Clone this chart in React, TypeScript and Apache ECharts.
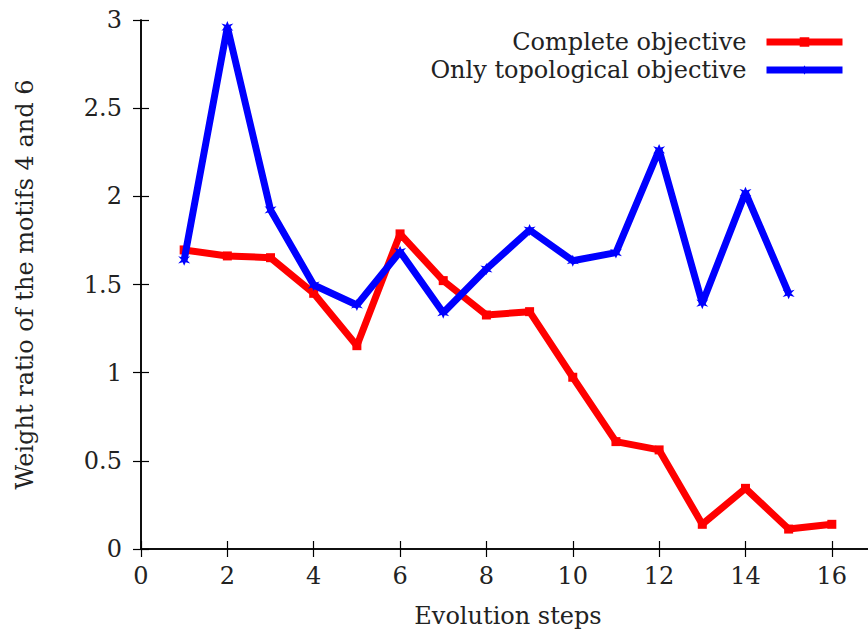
import React, { useEffect, useRef } from "react";
import * as echarts from "echarts";

const steps = [1, 2, 3, 4, 5, 6, 7, 8, 9, 10, 11, 12, 13, 14, 15, 16];
const completeObjective = [1.696, 1.662, 1.652, 1.45, 1.153, 1.787, 1.522, 1.327, 1.346, 0.974, 0.609, 0.562, 0.14, 0.344, 0.113, 0.14];
const topologicalSteps = [1, 2, 3, 4, 5, 6, 7, 8, 9, 10, 11, 12, 13, 14, 15];
const topologicalObjective = [1.64, 2.96, 1.923, 1.497, 1.384, 1.686, 1.34, 1.588, 1.809, 1.635, 1.681, 2.263, 1.394, 2.021, 1.45];
const seriesNames = ["Complete objective", "Only topological objective"];
const xTitle = "Evolution steps";
const yTitle = "Weight ratio of the motifs 4 and 6";

const FONT = "'DejaVu Serif', serif";
const FS = 24;
const TXT = "#222";

export default function App() {
  const ref = useRef<HTMLDivElement>(null);
  useEffect(() => {
    if (!ref.current) return;
    const chart = echarts.init(ref.current, undefined, { renderer: "svg" });
    const axisLineStyle = { color: "#000", width: 1.5 };
    const xBase = {
      type: "value" as const,
      min: 0,
      max: 17,
      interval: 2,
      splitLine: { show: false },
      axisLine: { show: true, lineStyle: axisLineStyle },
      axisTick: { show: true, inside: true, length: 8, lineStyle: { color: "#000", width: 1.2 } },
    };
    const yBase = {
      type: "value" as const,
      min: 0,
      max: 3,
      interval: 0.5,
      splitLine: { show: false },
      axisLine: { show: true, lineStyle: axisLineStyle },
      axisTick: { show: true, inside: true, length: 8, lineStyle: { color: "#000", width: 1.2 } },
    };
    const legendBase = {
      right: 39 + 22,
      align: "right",
      itemWidth: 76,
      itemHeight: 12,
      lineStyle: { width: 7 },
      textStyle: { fontFamily: FONT, fontSize: FS, color: TXT, padding: [0, 15, 0, 0] },
    };
    legendBase.right = 39 + 22 - 22 - 0;
    chart.setOption({
      animation: false,
      backgroundColor: "#fff",
      textStyle: { fontFamily: FONT },
      grid: { left: 141, top: 20, right: 15, bottom: 86, containLabel: false },
      xAxis: [
        {
          ...xBase,
          position: "bottom",
          name: xTitle,
          nameLocation: "middle",
          nameGap: 55,
          nameTextStyle: { fontFamily: FONT, fontSize: FS, color: TXT },
          axisLabel: {
            margin: 15,
            fontFamily: FONT,
            fontSize: FS,
            color: TXT,
            formatter: (v: number) => (v % 2 === 0 ? String(v) : ""),
          },
        },
        { ...xBase, position: "top", axisLabel: { show: false } },
      ],
      yAxis: [
        {
          ...yBase,
          position: "left",
          name: yTitle,
          nameLocation: "middle",
          nameGap: 104,
          nameTextStyle: { fontFamily: FONT, fontSize: FS, color: TXT },
          axisLabel: { margin: 19, fontFamily: FONT, fontSize: FS, color: TXT },
        },
        { ...yBase, position: "right", axisLabel: { show: false } },
      ],
      legend: [
        { ...legendBase, data: [seriesNames[0]], top: 25 },
        { ...legendBase, data: [seriesNames[1]], top: 53 },
      ],
      series: [
        {
          name: seriesNames[0],
          type: "line",
          data: steps.map((s, i) => [s, completeObjective[i]]),
          color: "#ff0000",
          lineStyle: { width: 7, color: "#ff0000" },
          itemStyle: { color: "#ff0000" },
          symbol: "rect",
          symbolSize: 9,
          showSymbol: true,
          z: 2,
        },
        {
          name: seriesNames[1],
          type: "line",
          data: topologicalSteps.map((s, i) => [s, topologicalObjective[i]]),
          color: "#0000ff",
          lineStyle: { width: 7, color: "#0000ff" },
          itemStyle: { color: "#0000ff" },
          symbol: "path://M5,0 L6.3,3 L10,2 L7.2,5 L10,8 L6.3,7 L5,10 L3.7,7 L0,8 L2.8,5 L0,2 L3.7,3 Z",
          symbolSize: 12,
          showSymbol: true,
          z: 3,
        },
      ],
    });
    return () => chart.dispose();
  }, []);
  return (
    <div
      style={{ position: "fixed", left: 0, top: 0, width: 868, height: 635, overflow: "hidden", background: "#fff" }}
    >
      <div ref={ref} style={{ width: 890, height: 635 }} />
    </div>
  );
}
